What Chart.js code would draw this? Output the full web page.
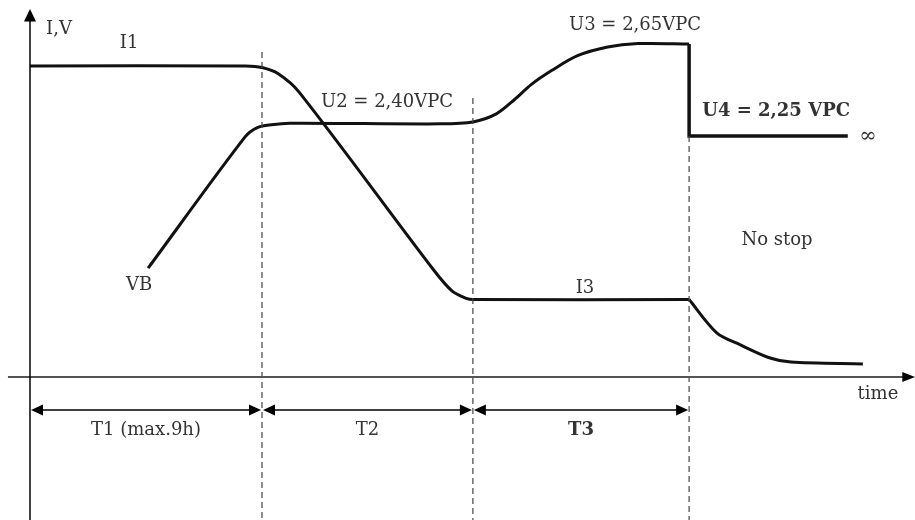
<!DOCTYPE html>
<html>
<head>
<meta charset="utf-8">
<script src="https://cdn.jsdelivr.net/npm/chart.js@4"></script>
<style>
  html, body { margin: 0; padding: 0; background: #fff; }
  #wrap { width: 915px; height: 520px; }
</style>
</head>
<body>
<div id="wrap"><canvas id="chart" width="915" height="520"></canvas></div>
<script>
// charging phases (time units), and where each dashed divider starts
var phaseEnds = [10, 19.09, 28.41];
var dividerTops = [104.5, 89.7, 77.5];
var phaseLabels = ["T1 (max.9h)", "T2", "T3"];

// current curve (I1 -> I3 -> decay)
var currentT = [0, 9.3, 10, 10.7, 11.6, 17.4, 18.2, 18.8, 19.1, 28.41];
var currentV = [100, 100, 99.5, 97.5, 91.6, 34.4, 27.6, 25.3, 24.9, 24.9];
var decayT = [28.41, 29.6, 30.6, 31.9, 32.8, 35.9];
var decayV = [24.9, 14.2, 10.4, 6.1, 4.8, 4.2];

// battery voltage curve (VB -> U2 -> U3)
var voltT = [5.09, 9.27, 9.8, 10.4, 11.2, 17.7, 19.09, 20.1, 20.9, 21.6, 22.5, 23.6, 24.9, 26.2, 28.41];
var voltV = [35.0, 77.2, 80.2, 81.1, 81.6, 81.4, 82.0, 84.6, 89.3, 94.0, 98.6, 103.3, 106.1, 107.2, 107.1];
// float stage U4
var floatT = [28.41, 28.41, 35.25];
var floatV = [107.1, 77.5, 77.5];

var xMin = -1.293, xMax = 38.147;
var yMin = -45.98, yMax = 121.22;
var dimY = -10.6;

// text labels: [text, t, v, bold, size]
var labels = [
  ["I,V", 1.25, 111.9, false, 18],
  ["I1", 4.27, 107.4, false, 18],
  ["U2 = 2,40VPC", 15.39, 88.4, false, 18],
  ["U3 = 2,65VPC", 26.08, 113.2, false, 18],
  ["U4 = 2,25 VPC", 32.16, 85.5, true, 18],
  ["\u221E", 36.12, 77.4, false, 21],
  ["VB", 4.70, 29.6, false, 18],
  ["I3", 23.92, 28.6, false, 18],
  ["No stop", 32.2, 44.1, false, 18],
  ["time", 36.55, -5.5, false, 18]
];

function pts(xs, ys) {
  return xs.map(function (x, i) { return { x: x, y: ys[i] }; });
}

function lineSet(data, opts) {
  return Object.assign({
    data: data,
    showLine: true,
    pointRadius: 0,
    borderColor: "#111",
    borderWidth: 3,
    tension: 0,
    fill: false
  }, opts || {});
}

var datasets = [];

// axes
datasets.push(lineSet([{ x: 0, y: yMin }, { x: 0, y: 114.5 }], { borderWidth: 1.5, borderColor: "#000" }));
datasets.push(lineSet([{ x: -0.95, y: 0 }, { x: 37.7, y: 0 }], { borderWidth: 2, borderColor: "#555" }));

// dashed dividers
phaseEnds.forEach(function (t, i) {
  datasets.push(lineSet([{ x: t, y: dividerTops[i] }, { x: t, y: yMin }], {
    borderWidth: 1.2, borderColor: "#444", borderDash: [6, 4]
  }));
});

// dimension lines between arrowheads
var starts = [0].concat(phaseEnds.slice(0, 2));
phaseEnds.forEach(function (t, i) {
  datasets.push(lineSet([{ x: starts[i] + 0.3, y: dimY }, { x: t - 0.3, y: dimY }], {
    borderWidth: 1.5, borderColor: "#000"
  }));
});

// curves
datasets.push(lineSet(pts(currentT, currentV), { tension: 0.3 }));
datasets.push(lineSet(pts(decayT, decayV), { tension: 0.3 }));
datasets.push(lineSet(pts(voltT, voltV), { tension: 0.3 }));
datasets.push(lineSet(pts(floatT, floatV), { borderWidth: 3.5 }));

var decor = {
  id: "decor",
  afterDatasetsDraw: function (chart) {
    var ctx = chart.ctx;
    var sx = chart.scales.x, sy = chart.scales.y;
    var px = function (v) { return sx.getPixelForValue(v); };
    var py = function (v) { return sy.getPixelForValue(v); };

    function tri(x1, y1, x2, y2, x3, y3) {
      ctx.beginPath();
      ctx.moveTo(x1, y1); ctx.lineTo(x2, y2); ctx.lineTo(x3, y3);
      ctx.closePath(); ctx.fill();
    }

    ctx.save();
    ctx.fillStyle = "#000";
    // axis arrows
    var ax = px(0);
    tri(ax, py(118.3), ax - 6, py(114.3), ax + 6, py(114.3));
    var ay = py(0);
    tri(px(38.15), ay, px(37.6), ay - 5, px(37.6), ay + 5);

    // dimension arrowheads
    var dy = py(dimY);
    phaseEnds.forEach(function (t, i) {
      var l = px(starts[i]) + 1, r = px(t) - 1;
      tri(l, dy, l + 12, dy - 5.5, l + 12, dy + 5.5);
      tri(r, dy, r - 12, dy - 5.5, r - 12, dy + 5.5);
    });

    // labels
    ctx.fillStyle = "#333";
    ctx.textAlign = "center";
    ctx.textBaseline = "middle";
    labels.forEach(function (l) {
      ctx.font = (l[3] ? "bold " : "") + l[4] + "px 'DejaVu Serif'";
      ctx.fillText(l[0], px(l[1]), py(l[2]));
    });
    phaseLabels.forEach(function (txt, i) {
      ctx.font = (i === 2 ? "bold " : "") + "18px 'DejaVu Serif'";
      ctx.fillText(txt, px((starts[i] + phaseEnds[i]) / 2), py(-17.3));
    });
    ctx.restore();
  }
};

new Chart(document.getElementById("chart"), {
  type: "scatter",
  data: { datasets: datasets },
  options: {
    responsive: false,
    animation: false,
    layout: { padding: 0 },
    plugins: { legend: { display: false }, tooltip: { enabled: false } },
    scales: {
      x: { type: "linear", min: xMin, max: xMax, display: false },
      y: { type: "linear", min: yMin, max: yMax, display: false }
    }
  },
  plugins: [decor]
});
</script>
</body>
</html>
